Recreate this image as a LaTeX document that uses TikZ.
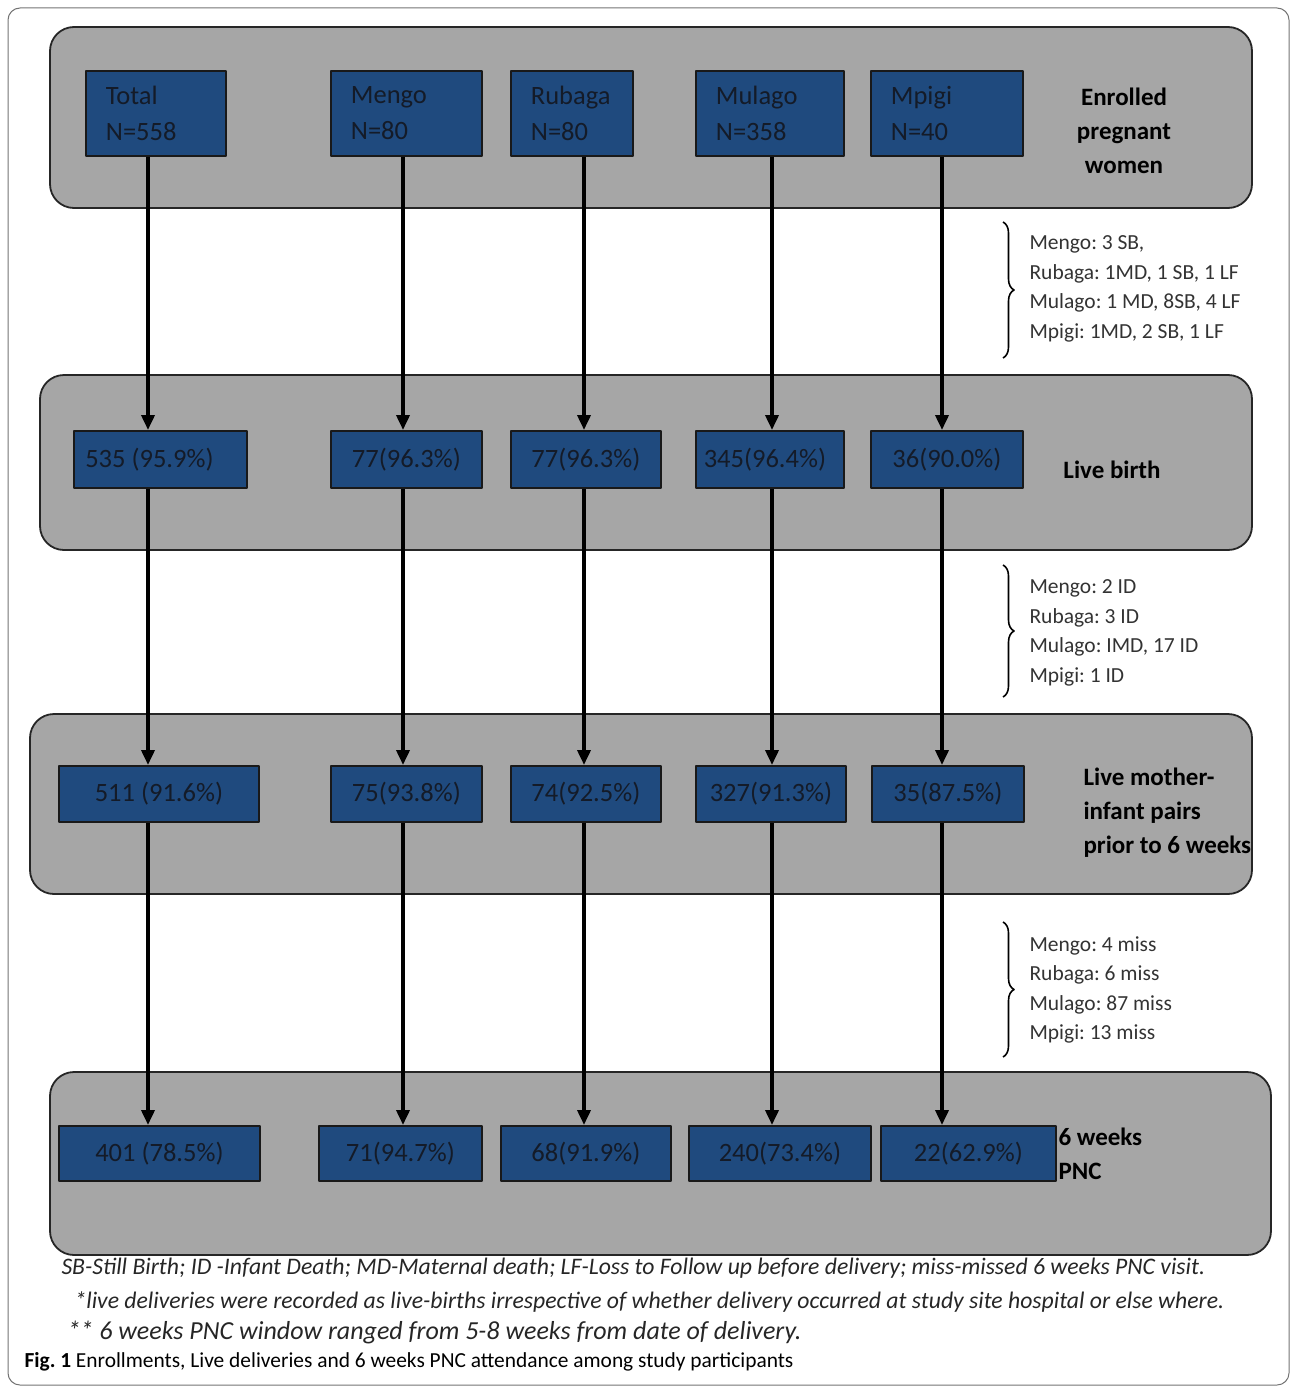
\documentclass[tikz,border=0pt]{standalone}
\usepackage{fontspec}
\setmainfont{Carlito}
\usetikzlibrary{arrows.meta,decorations.pathreplacing}
\definecolor{bandgray}{RGB}{166,166,166}
\definecolor{boxblue}{RGB}{31,74,126}
\definecolor{inkdark}{RGB}{20,27,40}
\frenchspacing
\begin{document}
\begin{tikzpicture}[x=1pt,y=-1pt,line join=round,
	band/.style={draw=black!85,line width=1.8pt,fill=bandgray,rounded corners=24pt},
	site/.style={draw=black!90,line width=1.8pt,fill=boxblue,text=inkdark,anchor=north west,font=\fontsize{26.5}{36}\selectfont,inner sep=0pt,align=center},
	head/.style={site,text width=#1,align=left,inner xsep=20pt,minimum height=85pt},
	flow/.style={line width=3.6pt,-{Triangle[length=15pt,width=13pt]}},
	stage/.style={font=\fontsize{25}{34}\selectfont\bfseries,align=#1},
	stage/.default=center,
	loss/.style={anchor=west,align=left,text=black!80,font=\fontsize{21.5}{29.5}\selectfont},
	brc/.style={decorate,decoration={brace,amplitude=11pt},line width=1.6pt},
	note/.style={anchor=west,text=black!85,font=\fontsize{23.7}{28}\selectfont\itshape}]
	\useasboundingbox (0,0) rectangle (1292,1389);
	\draw[black!55,line width=1pt,rounded corners=12pt] (8,8) rectangle (1289,1385);
	% the four stages
	\draw[band] (50,27) rectangle (1252,208);
	\draw[band] (40,375) rectangle (1252,550);
	\draw[band] (30,714) rectangle (1252,894);
	\draw[band] (50,1072) rectangle (1271,1255);
	% columns
	\coordinate (c1) at (148,0);
	\coordinate (c2) at (403,0);
	\coordinate (c3) at (584,0);
	\coordinate (c4) at (772,0);
	\coordinate (c5) at (942,0);
	% enrolled
	\node[head=100pt] (tot1) at (85,70) {Total\\N=558};
	\node[head=111pt] (men1) at (330,70) {Mengo\\N=80};
	\node[head=82pt] (rub1) at (510,70) {Rubaga\\N=80};
	\node[head=108pt] (mul1) at (695,70) {Mulago\\N=358};
	\node[head=112pt] (mpi1) at (870,70) {Mpigi\\N=40};
	\node[stage] (lab1) at (1124,131) {Enrolled\\pregnant\\women};
	% live birth
	\node[site,minimum width=173pt,minimum height=57pt] (tot2) at (73,430) {535 (95.9\%)\hspace{22pt}};
	\node[site,minimum width=151pt,minimum height=57pt] (men2) at (330,430) {77(96.3\%)};
	\node[site,minimum width=150pt,minimum height=57pt] (rub2) at (510,430) {77(96.3\%)};
	\node[site,minimum width=148pt,minimum height=57pt] (mul2) at (695,430) {345(96.4\%)\hspace{10pt}};
	\node[site,minimum width=152pt,minimum height=57pt] (mpi2) at (870,430) {36(90.0\%)};
	\node[stage] (lab2) at (1112,470) {Live birth};
	% mother-infant pairs
	\node[site,minimum width=200pt,minimum height=56pt] (tot3) at (58,765) {511 (91.6\%)};
	\node[site,minimum width=151pt,minimum height=56pt] (men3) at (330,765) {75(93.8\%)};
	\node[site,minimum width=150pt,minimum height=56pt] (rub3) at (510,765) {74(92.5\%)};
	\node[site,minimum width=150pt,minimum height=56pt] (mul3) at (695,765) {327(91.3\%)};
	\node[site,minimum width=152pt,minimum height=56pt] (mpi3) at (871,765) {35(87.5\%)};
	\node[stage=left,anchor=west] (lab3) at (1080,813) {Live mother-\\infant pairs\\prior to 6 weeks};
	% 6 weeks PNC
	\node[site,minimum width=201pt,minimum height=55pt] (tot4) at (58,1125) {401 (78.5\%)};
	\node[site,minimum width=163pt,minimum height=55pt] (men4) at (318,1125) {71(94.7\%)};
	\node[site,minimum width=170pt,minimum height=55pt] (rub4) at (500,1125) {68(91.9\%)};
	\node[site,minimum width=182pt,minimum height=55pt] (mul4) at (688,1125) {240(73.4\%)};
	\node[site,minimum width=175pt,minimum height=55pt] (mpi4) at (880,1125) {22(62.9\%)};
	\node[stage=left,anchor=west] (lab4) at (1055,1154) {6 weeks\\PNC};
	% arrows
	\foreach \s/\c in {tot/c1,men/c2,rub/c3,mul/c4,mpi/c5}{
		\draw[flow] (\s1.south -| \c) -- (\s2.north -| \c);
		\draw[flow] (\s2.south -| \c) -- (\s3.north -| \c);
		\draw[flow] (\s3.south -| \c) -- (\s4.north -| \c);
	}
	% losses
	\draw[brc] (1003,222) -- (1003,358);
	\node[loss] (loss1) at (1026,289) {Mengo: 3 SB,\\Rubaga: 1MD, 1 SB, 1 LF\\Mulago: 1 MD, 8SB, 4 LF\\Mpigi: 1MD, 2 SB, 1 LF};
	\draw[brc] (1003,565) -- (1003,697);
	\node[loss] (loss2) at (1026,633) {Mengo: 2 ID\\Rubaga: 3 ID\\Mulago: IMD, 17 ID\\Mpigi: 1 ID};
	\draw[brc] (1003,922) -- (1003,1057);
	\node[loss] (loss3) at (1026,990) {Mengo: 4 miss\\Rubaga: 6 miss\\Mulago: 87 miss\\Mpigi: 13 miss};
	% footnotes
	\node[note] (fn1) at (58,1268) {SB-Still Birth; ID -Infant Death; MD-Maternal death; LF-Loss to Follow up before delivery; miss-missed 6 weeks PNC visit.};
	\node[note] (fn2) at (71,1302) {*live deliveries were recorded as live-births irrespective of whether delivery occurred at study site hospital or else where.};
	\node[note,font=\fontsize{26}{30}\selectfont\itshape] (fn3) at (64,1332) {** 6 weeks PNC window ranged from 5-8 weeks from date of delivery.};
	\node[anchor=west,font=\fontsize{21.4}{24}\selectfont] (cap) at (21,1362) {\textbf{Fig. 1} Enrollments, Live deliveries and 6 weeks PNC attendance among study participants};
\end{tikzpicture}
\end{document}
